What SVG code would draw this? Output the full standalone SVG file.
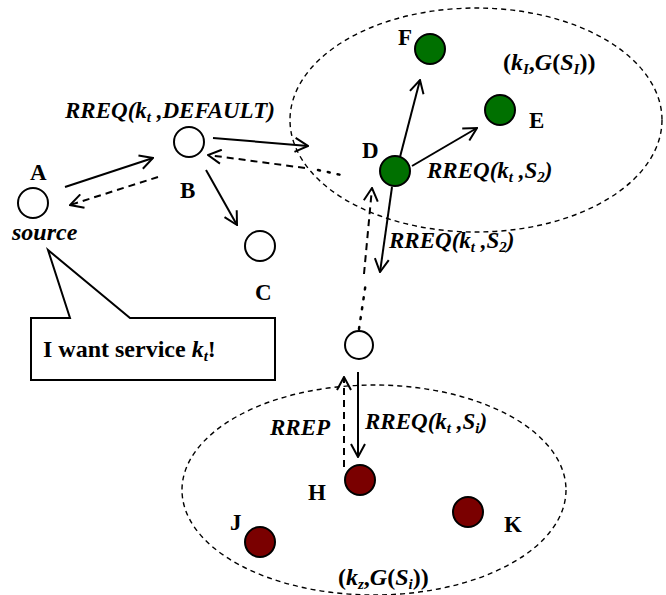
<svg xmlns="http://www.w3.org/2000/svg" width="666" height="595" viewBox="0 0 666 595">
<style>
.lbl{font-family:"Liberation Serif","Times New Roman",serif;font-weight:bold;font-size:23px;fill:#000}
.bi{font-family:"Liberation Serif","Times New Roman",serif;font-weight:bold;font-style:italic;font-size:23px;fill:#000}
.big{font-size:24px}
.it{font-style:italic}
.sub{font-size:15px}
.node{stroke:#000;stroke-width:2}
.white{fill:#fff}
.green{fill:#007000}
.red{fill:#7a0000}
.solid{stroke:#000;stroke-width:2;fill:none;marker-end:url(#ah)}
.dash{stroke:#000;stroke-width:2;fill:none;stroke-dasharray:7 5;marker-end:url(#ah)}
.dot{stroke:#000;stroke-width:2.5;fill:none;stroke-dasharray:2 8;stroke-linecap:round}
.region{fill:none;stroke:#000;stroke-width:1.4;stroke-dasharray:5 4}
</style>
<defs>
<marker id="ah" viewBox="0 0 16 16" refX="15" refY="8" markerWidth="16" markerHeight="16" markerUnits="userSpaceOnUse" orient="auto">
<path d="M2,1 L15,8 L2,15" fill="none" stroke="#000" stroke-width="2"/>
</marker>
</defs>
<rect width="666" height="595" fill="#fff"/>
<g id="regions">
<ellipse class="region" cx="476" cy="120" rx="186" ry="112"/>
<ellipse class="region" cx="374" cy="490" rx="192" ry="105"/>
<text class="lbl big" x="503" y="70">(<tspan class="it">k</tspan><tspan class="sub it" dy="4">I</tspan><tspan dy="-4">,</tspan><tspan class="it">G</tspan>(<tspan class="it">S</tspan><tspan class="sub it" dy="4">I</tspan><tspan dy="-4">))</tspan></text>
<text class="lbl big" x="338" y="585">(<tspan class="it">k</tspan><tspan class="sub it" dy="4">z</tspan><tspan dy="-4">,</tspan><tspan class="it">G</tspan>(<tspan class="it">S</tspan><tspan class="sub it" dy="4">i</tspan><tspan dy="-4">))</tspan></text>
</g>
<g id="connectors">
<line class="solid" x1="65" y1="187" x2="153" y2="158"/>
<line class="dash" x1="158" y1="177" x2="70" y2="205"/>
<line class="solid" x1="206" y1="170" x2="237" y2="225"/>
<line class="solid" x1="213" y1="138" x2="308" y2="146"/>
<line class="dash" x1="305" y1="168" x2="208" y2="155"/>
<line class="dot" x1="318" y1="170" x2="346" y2="176"/>
<line class="solid" x1="400" y1="157" x2="420" y2="80"/>
<line class="solid" x1="412" y1="166" x2="477" y2="128"/>
<line class="solid" x1="392" y1="187" x2="380" y2="272"/>
<line class="dot" x1="359" y1="329" x2="366" y2="282"/>
<line class="dash" x1="364" y1="274" x2="372" y2="188"/>
<line class="solid" x1="358" y1="372" x2="358" y2="457"/>
<line class="dash" x1="344" y1="467" x2="344" y2="377"/>
</g>
<g id="A">
<circle class="node white" cx="33" cy="203" r="15"/>
<text class="lbl" x="30" y="180">A</text>
<text class="bi big" x="12" y="240">source</text>
</g>
<g id="B">
<circle class="node white" cx="189" cy="142" r="15"/>
<text class="lbl" x="180" y="198">B</text>
<text class="bi" x="65" y="118">RREQ(k<tspan class="sub" dy="4">t</tspan><tspan dy="-4"> ,DEFAULT)</tspan></text>
</g>
<g id="C">
<circle class="node white" cx="260" cy="246" r="15"/>
<text class="lbl" x="255" y="300">C</text>
</g>
<g id="D">
<circle class="node green" cx="395" cy="171" r="15"/>
<text class="lbl" x="362" y="158">D</text>
<text class="bi" x="427" y="178">RREQ(k<tspan class="sub" dy="4">t</tspan><tspan dy="-4"> ,S</tspan><tspan class="sub" dy="4">2</tspan><tspan dy="-4">)</tspan></text>
<text class="bi" x="389" y="248">RREQ(k<tspan class="sub" dy="4">t</tspan><tspan dy="-4"> ,S</tspan><tspan class="sub" dy="4">2</tspan><tspan dy="-4">)</tspan></text>
</g>
<g id="F">
<circle class="node green" cx="430" cy="49" r="15"/>
<text class="lbl" x="398" y="45">F</text>
</g>
<g id="E">
<circle class="node green" cx="500" cy="110" r="15"/>
<text class="lbl" x="529" y="128">E</text>
</g>
<g id="relay">
<circle class="node white" cx="359" cy="345" r="14"/>
</g>
<g id="H">
<circle class="node red" cx="360" cy="480" r="15"/>
<text class="lbl" x="308" y="500">H</text>
<text class="bi" x="270" y="435">RREP</text>
<text class="bi" x="365" y="429">RREQ(k<tspan class="sub" dy="4">t</tspan><tspan dy="-4"> ,S</tspan><tspan class="sub" dy="4">i</tspan><tspan dy="-4">)</tspan></text>
</g>
<g id="J">
<circle class="node red" cx="260" cy="542" r="15"/>
<text class="lbl" x="230" y="530">J</text>
</g>
<g id="K">
<circle class="node red" cx="468" cy="512" r="15"/>
<text class="lbl" x="504" y="532">K</text>
</g>
<g id="callout">
<path d="M31,318 L70,318 L48,250 L130,318 L275,318 L275,380 L31,380 Z" fill="#fff" stroke="#000" stroke-width="2"/>
<text class="lbl big" x="43" y="357">I want service <tspan class="it">k</tspan><tspan class="sub it" dy="4">t</tspan><tspan dy="-4">!</tspan></text>
</g>
</svg>
